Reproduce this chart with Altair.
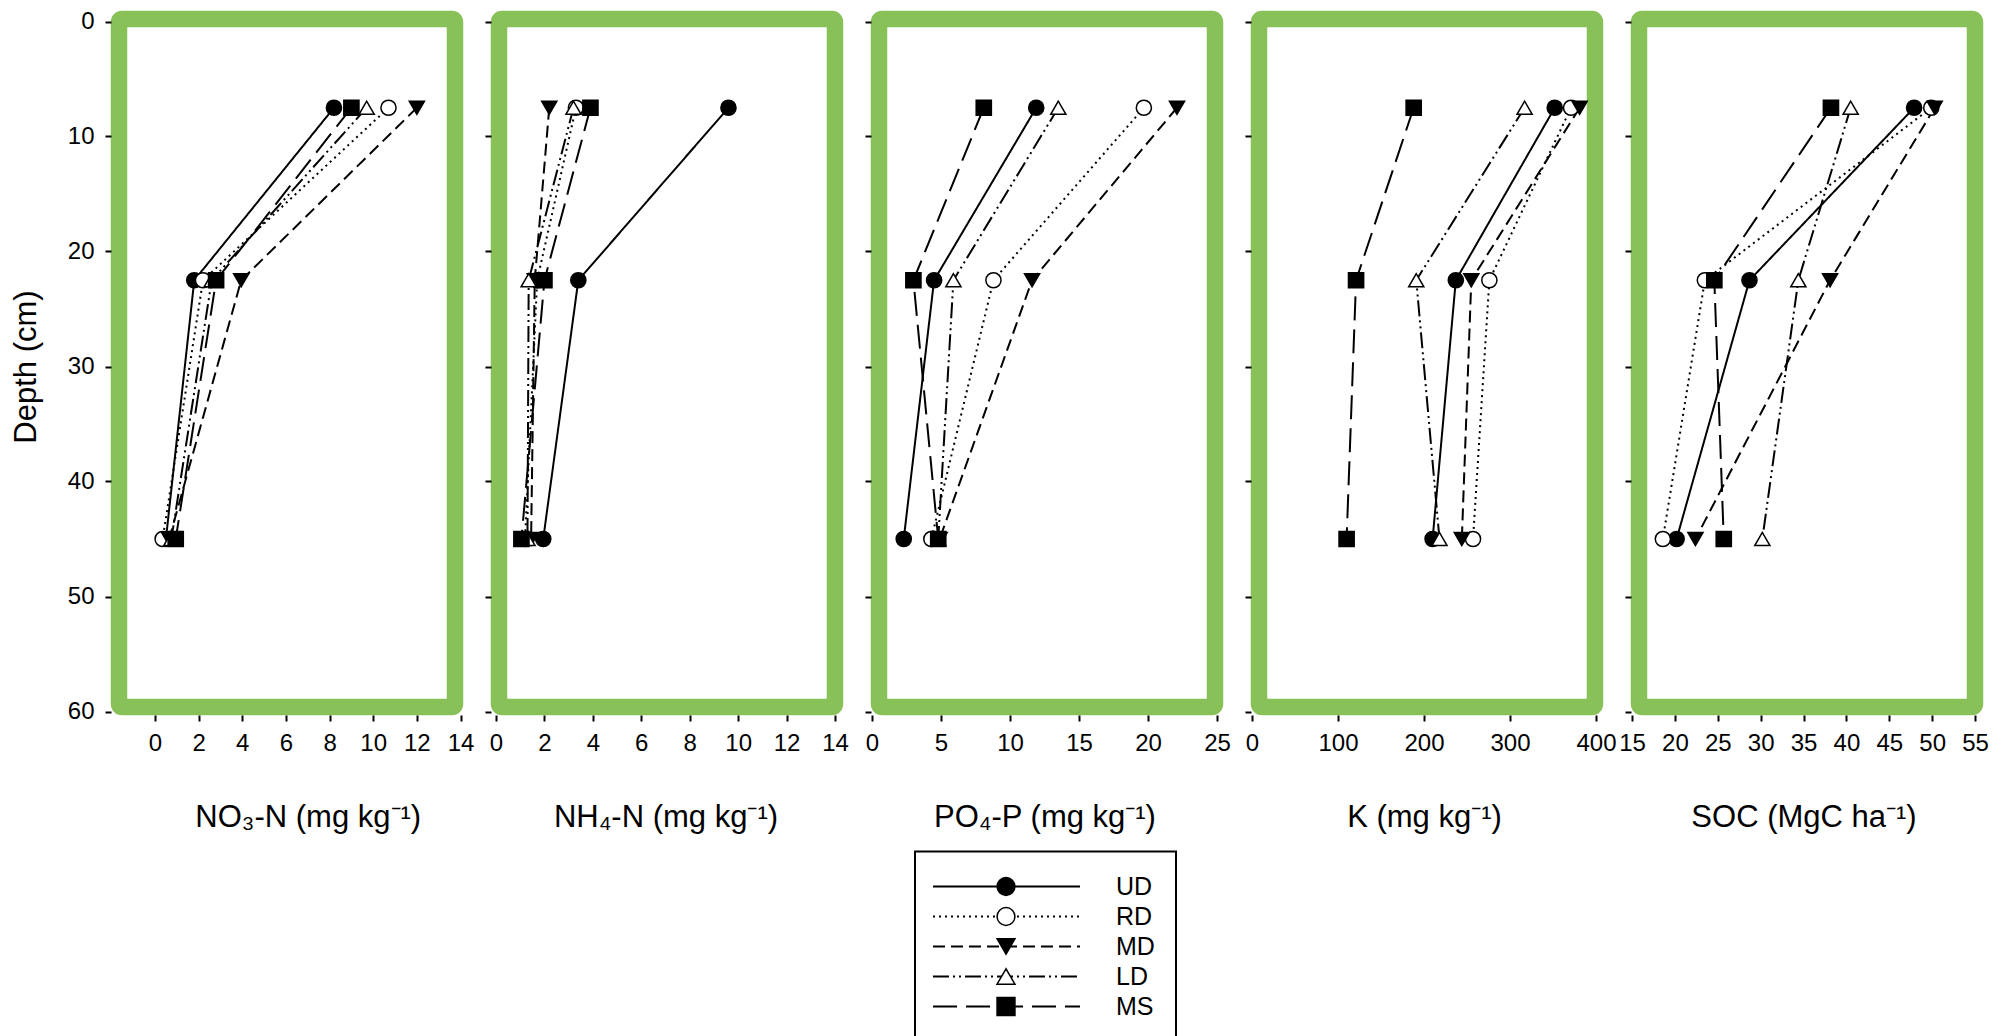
import altair as alt
import pandas as pd

# ---------------- data ----------------
depth = [7.5, 22.5, 45.0]
series = ["UD", "RD", "MD", "LD", "MS"]

no3_n = {"UD": [8.2, 1.8, 0.5], "RD": [10.7, 2.2, 0.35], "MD": [12.0, 3.95, 0.65],
         "LD": [9.7, 2.6, 0.75], "MS": [9.0, 2.8, 0.95]}
nh4_n = {"UD": [9.6, 3.4, 1.95], "RD": [3.3, 1.7, 1.2], "MD": [2.2, 1.6, 1.45],
         "LD": [3.2, 1.35, 1.3], "MS": [3.9, 2.0, 1.05]}
po4_p = {"UD": [11.9, 4.5, 2.3], "RD": [19.7, 8.8, 4.3], "MD": [22.1, 11.6, 4.9],
         "LD": [13.5, 5.9, 4.8], "MS": [8.1, 3.0, 4.8]}
k_val = {"UD": [352, 237, 210], "RD": [371, 276, 257], "MD": [381, 255, 244],
         "LD": [317, 191, 218], "MS": [188, 121, 110]}
soc = {"UD": [47.9, 28.7, 20.2], "RD": [49.9, 23.5, 18.6], "MD": [50.3, 38.1, 22.4],
       "LD": [40.5, 34.4, 30.2], "MS": [38.2, 24.6, 25.7]}

panel_values = [no3_n, nh4_n, po4_p, k_val, soc]
panel_titles = ["NO₃-N (mg kg⁻¹)", "NH₄-N (mg kg⁻¹)", "PO₄-P (mg kg⁻¹)",
                "K (mg kg⁻¹)", "SOC (MgC ha⁻¹)"]
x_domains = [[0, 14], [0, 14], [0, 25], [0, 400], [15, 55]]
x_ticks = [[0, 2, 4, 6, 8, 10, 12, 14], [0, 2, 4, 6, 8, 10, 12, 14],
           [0, 5, 10, 15, 20, 25], [0, 100, 200, 300, 400],
           [15, 20, 25, 30, 35, 40, 45, 50, 55]]
depth_ticks = [0, 10, 20, 30, 40, 50, 60]

# ---------------- styles / layout ----------------
GREEN = "#88C158"
FONT = "Liberation Sans"
W, H = 336, 688
x_ranges = [[36, 341.5], [-3, 336], [-7, 338], [-7, 337], [-7, 336]]
y_range = [2.5, 692.5]

shapes = ["circle", "circle", "triangle-down", "triangle-up", "square"]
fills = ["black", "white", "black", "white", "black"]
dashes = [[1, 0], [2, 4], [12, 6], [16, 4, 2, 4, 2, 4], [24, 9]]

shape_enc = alt.Shape("series:N", scale=alt.Scale(domain=series, range=shapes), legend=None)
fill_enc = alt.Fill("series:N", scale=alt.Scale(domain=series, range=fills), legend=None)
dash_enc = alt.StrokeDash("series:N", scale=alt.Scale(domain=series, range=dashes), legend=None)


def make_legend():
    """Custom key drawn below the middle panel (positions relative to that panel)."""
    leg_df = pd.DataFrame({"series": series})
    ly = alt.Y("series:N",
               scale=alt.Scale(type="point", domain=series, range=[867.5, 987.5], padding=0),
               axis=None)
    box = alt.Chart(pd.DataFrame({"box": ["legend"]})).mark_rect(
        filled=False, color="black", strokeWidth=2).encode(
        x=alt.value(36), x2=alt.value(297), y=alt.value(832.5), y2=alt.value(1025))
    leg_lines = alt.Chart(leg_df).mark_rule(color="black", strokeWidth=2).encode(
        x=alt.value(54), x2=alt.value(201), y=ly, strokeDash=dash_enc)
    leg_pts = alt.Chart(leg_df).mark_point(filled=True, size=320, stroke="black",
                                           strokeWidth=1.5, opacity=1).encode(
        x=alt.value(127), y=ly, shape=shape_enc, fill=fill_enc)
    leg_txt = alt.Chart(leg_df).mark_text(align="left", baseline="middle", font=FONT,
                                          fontSize=25, color="black").encode(
        x=alt.value(237), y=ly, text="series:N")
    return alt.layer(box, leg_lines, leg_pts, leg_txt)


def make_panel(i):
    vals = panel_values[i]
    rows = []
    for s in series:
        for d, v in zip(depth, vals[s]):
            rows.append({"series": s, "depth": d, "value": v})
    df = pd.DataFrame(rows)

    x = alt.X("value:Q",
              scale=alt.Scale(domain=x_domains[i], range=x_ranges[i], nice=False, zero=False),
              axis=alt.Axis(values=x_ticks[i], title=panel_titles[i], titlePadding=47,
                            labelPadding=10))
    yaxis_kw = dict(values=depth_ticks, labelPadding=11)
    if i == 0:
        yaxis_kw.update(title="Depth (cm)", titlePadding=25)
    else:
        yaxis_kw.update(title="", labels=False)
    y = alt.Y("depth:Q",
              scale=alt.Scale(domain=[0, 60], range=y_range, nice=False, zero=False),
              axis=alt.Axis(**yaxis_kw))

    lines = alt.Chart(df).mark_line(color="black", strokeWidth=2).encode(
        x=x, y=y, detail="series:N", order="depth:Q", strokeDash=dash_enc)
    points = alt.Chart(df).mark_point(filled=True, size=230, stroke="black",
                                      strokeWidth=1.5, opacity=1).encode(
        x=x, y=y, shape=shape_enc, fill=fill_enc)
    body = alt.layer(lines, points)
    if i == 2:
        body = alt.layer(body, make_legend()).resolve_scale(y="independent")
    return body.properties(
        width=W, height=H,
        view=alt.ViewBackground(stroke=GREEN, strokeWidth=16.5, cornerRadius=3),
    )


panels = [make_panel(i) for i in range(5)]

chart = alt.hconcat(*panels, spacing=44, bounds="flush").properties(
    padding={"left": 2, "top": 1, "right": 0, "bottom": 0},
    background="white",
).configure_axis(
    domain=False, grid=False, tickColor="black", tickWidth=2, tickSize=6, offset=8,
    labelFont=FONT, labelFontSize=24, labelColor="black", labelFlush=False,
    labelOverlap=False, titleFont=FONT, titleFontSize=31, titleFontWeight="normal",
    titleColor="black",
).configure_view(stroke=None)

chart.save("out.html", embed_options={"renderer": "svg", "actions": False})
